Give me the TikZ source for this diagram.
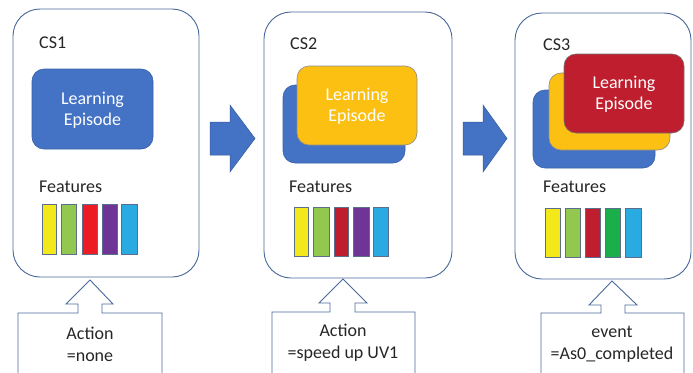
\documentclass[tikz,border=0pt]{standalone}
\usepackage{fontspec}
\setmainfont{Carlito}
\definecolor{obl}{HTML}{4472C4}
\definecolor{oyl}{HTML}{FBC012}
\definecolor{ord}{HTML}{BE1E2D}
\definecolor{pline}{HTML}{4A6A9C}
\definecolor{bline}{HTML}{5B6E8E}
\definecolor{txt}{HTML}{262626}
\definecolor{fyel}{HTML}{F2E81A}
\definecolor{fgrn}{HTML}{92C850}
\definecolor{fred}{HTML}{ED1C24}
\definecolor{fdred}{HTML}{BE1E2D}
\definecolor{fpur}{HTML}{6F3596}
\definecolor{fblu}{HTML}{29ABE2}
\definecolor{fdgrn}{HTML}{1AAF4B}
\begin{document}
\begin{tikzpicture}[x=1pt,y=-1pt,
  panel/.style={draw=pline,line width=0.9pt,rounded corners=27pt,fill=white},
  ep/.style={rounded corners=12pt,line width=0.6pt},
  bar/.style={draw=bline,line width=1pt},
  lbl/.style={text=txt,font=\fontsize{18}{21}\selectfont,anchor=west,inner sep=0pt},
  eptext/.style={text=white,font=\fontsize{18}{21}\selectfont,align=center,inner sep=0pt},
  acttext/.style={text=txt,font=\fontsize{18}{22}\selectfont,align=center,inner sep=0pt},
  act/.style={draw=pline,line width=0.9pt,fill=white},
  bigarrow/.style={fill=obl,draw=obl!80!black,line width=0.5pt}]
\fill[white] (0,0) rectangle (693,372);
\useasboundingbox (0,0) rectangle (693,372);
% panels
\draw[panel] (13,9) rectangle (199,277);
\coordinate (cs1) at (106,143);
\draw[panel] (264,12) rectangle (452,278);
\coordinate (cs2) at (358,145);
\draw[panel] (515,13) rectangle (691,279);
\coordinate (cs3) at (603,146);
% labels
\node[lbl] (l1) at (39,43) {CS1};
\node[lbl] (l2) at (290,44) {CS2};
\node[lbl] (l3) at (543,45) {CS3};
\node[lbl] (f1) at (39,187) {Features};
\node[lbl] (f2) at (289,187) {Features};
\node[lbl] (f3) at (543,187) {Features};
% learning episodes
\draw[ep,fill=obl,draw=obl!85!black] (32,69) rectangle (153,149);
\node[eptext] (e1) at (92.5,110) {Learning\\Episode};
\draw[ep,fill=obl,draw=obl!85!black] (283,85) rectangle (405,163);
\draw[ep,fill=oyl,draw=black!45] (297,66) rectangle (417,145);
\node[eptext] (e2) at (357,106) {Learning\\Episode};
\draw[ep,fill=obl,draw=obl!85!black] (533,90) rectangle (655,168);
\draw[ep,fill=oyl,draw=black!45] (549,73) rectangle (670,150);
\draw[ep,fill=ord,draw=black!55] (564,54) rectangle (684,133);
\node[eptext] (e3) at (624,94) {Learning\\Episode};
% feature bars CS1
\draw[bar,fill=fyel] (42,204) rectangle (56,254);
\draw[bar,fill=fgrn] (61,204) rectangle (76,254);
\draw[bar,fill=fred] (82,204) rectangle (97,254);
\draw[bar,fill=fpur] (102,204) rectangle (117,254);
\draw[bar,fill=fblu] (121,204) rectangle (137,254);
% CS2
\draw[bar,fill=fyel] (294,207) rectangle (308,256);
\draw[bar,fill=fgrn] (313,207) rectangle (329,256);
\draw[bar,fill=fdred] (334,207) rectangle (348,256);
\draw[bar,fill=fpur] (353,207) rectangle (369,256);
\draw[bar,fill=fblu] (373,207) rectangle (388,256);
% CS3
\draw[bar,fill=fyel] (545,208) rectangle (560,257);
\draw[bar,fill=fgrn] (565,208) rectangle (580,257);
\draw[bar,fill=fdred] (585,208) rectangle (600,257);
\draw[bar,fill=fdgrn] (605,208) rectangle (620,257);
\draw[bar,fill=fblu] (625,208) rectangle (641,257);
% big arrows
\draw[bigarrow] (210,122) -- (230,122) -- (230,105) -- (255,138.5) -- (230,172) -- (230,155) -- (210,155) -- cycle;
\draw[bigarrow] (463,122) -- (483,122) -- (483,105) -- (507,138.5) -- (483,172) -- (483,155) -- (463,155) -- cycle;
% action boxes with hollow arrows
\draw[act] (18,380) -- (18,313) -- (78,313) -- (78,304) -- (66,304) -- (90,280) -- (113,304) -- (102,304) -- (102,313) -- (162,313) -- (162,380);
\node[acttext] (a1) at (90,344) {Action\\=none};
\draw[act] (272,380) -- (272,312) -- (330,312) -- (330,303) -- (319,303) -- (343,279) -- (367,303) -- (355,303) -- (355,312) -- (415,312) -- (415,380);
\node[acttext] (a2) at (343,343) {Action\\=speed up UV1};
\draw[act] (541,380) -- (541,313) -- (601,313) -- (601,305) -- (589,305) -- (612,281) -- (637,305) -- (625,305) -- (625,313) -- (684,313) -- (684,380);
\node[acttext] (a3) at (612,344) {event\\=As0\_completed};
\end{tikzpicture}
\end{document}
